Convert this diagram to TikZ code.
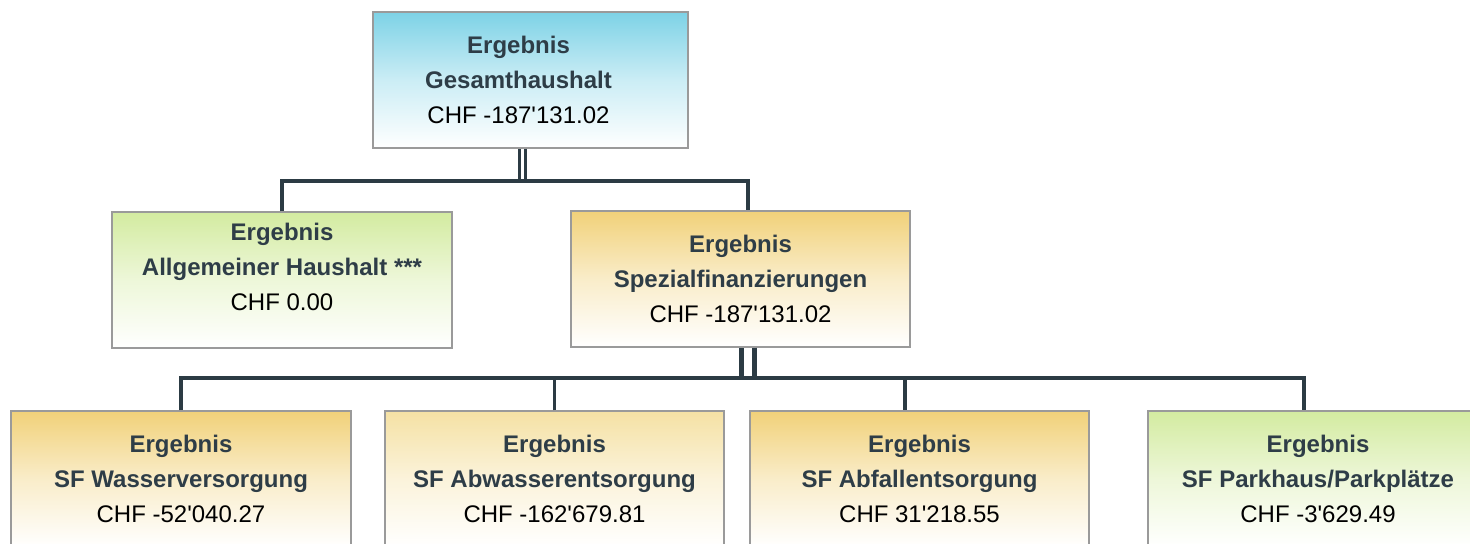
\documentclass[tikz,border=0pt]{standalone}
\usepackage{fontspec}
\setmainfont{Liberation Sans}[Ligatures=TeXOff]
\definecolor{ink}{HTML}{2E3D47}
\definecolor{wire}{HTML}{2C3B44}
\definecolor{frame}{HTML}{9A9A9A}
\definecolor{sky}{HTML}{7DD2E6}
\definecolor{leaf}{HTML}{D3EBA0}
\definecolor{gold}{HTML}{F1D179}
\definecolor{pale}{HTML}{F5E1A4}
\newcommand{\head}[1]{\textbf{\color{ink}#1}}
\tikzset{
  box/.style={draw=frame,line width=0.6pt,minimum width=170pt,minimum height=68pt,
    inner sep=0pt,top color=#1,bottom color=white,middle color=#1!40!white},
  txt/.style={align=center,font=\fontsize{12}{17.5}\selectfont,inner sep=0pt},
  link/.style={draw=wire,line width=1.8pt,line join=miter}
}
\begin{document}
\begin{tikzpicture}[x=0.5pt,y=-0.5pt]
\useasboundingbox (0,0) rectangle (1470,544);
\clip (0,0) rectangle (1470,544);
\node[box=sky,minimum width=157.5pt] (top) at (530.5,80) {};
\node[box=leaf] (allg) at (282,280) {};
\node[box=gold,minimum width=169.5pt] (spez) at (740.5,279) {};
\node[box=gold] (wasser) at (181,479) {};
\node[box=pale,minimum width=169.5pt] (abwasser) at (554.5,479) {};
\node[box=gold,minimum width=169.5pt] (abfall) at (919.5,479) {};
\node[box=leaf] (park) at (1318,479) {};
\node[txt,xshift=-6pt] (top-txt) at (top) {\head{Ergebnis}\\\head{Gesamthaushalt}\\CHF -187'131.02};
\node[txt,yshift=6.5pt] (allg-txt) at (allg) {\head{Ergebnis}\\\head{Allgemeiner Haushalt ***}\\CHF 0.00};
\node[txt] (spez-txt) at (spez) {\head{Ergebnis}\\\head{Spezialfinanzierungen}\\CHF -187'131.02};
\node[txt] (wasser-txt) at (wasser) {\head{Ergebnis}\\\head{SF Wasserversorgung}\\CHF -52'040.27};
\node[txt] (abwasser-txt) at (abwasser) {\head{Ergebnis}\\\head{SF Abwasserentsorgung}\\CHF -162'679.81};
\node[txt] (abfall-txt) at (abfall) {\head{Ergebnis}\\\head{SF Abfallentsorgung}\\CHF 31'218.55};
\node[txt] (park-txt) at (park) {\head{Ergebnis}\\\head{SF Parkhaus/Parkplätze}\\CHF -3'629.49};
% junctions
\coordinate (bus1) at (522.3,181);
\coordinate (bus2) at (748,378);
\coordinate (drop1) at (748,181);
\coordinate (drop3) at (905,378);
\coordinate (drop4) at (1304,378);
\draw[link,line width=1.6pt,double=white,double distance=1.6pt] (top.south -| bus1) -- (bus1);
\draw[link,line width=2.2pt,double=white,double distance=4.2pt] (spez.south -| bus2) -- (bus2);
\draw[link] (allg.north) |- (drop1) -- (drop1 |- spez.north);
\draw[link] (wasser.north) |- (drop4) -- (drop4 |- park.north);
\draw[link] (abwasser.north) -- (abwasser.north |- bus2);
\draw[link] (drop3) -- (drop3 |- abfall.north);
\end{tikzpicture}
\end{document}
